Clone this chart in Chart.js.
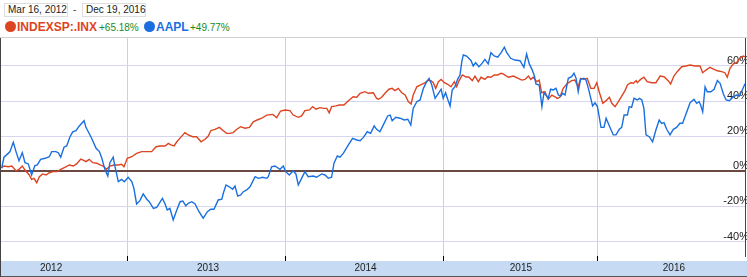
<!DOCTYPE html>
<html>
<head>
<meta charset="utf-8">
<script src="https://cdn.jsdelivr.net/npm/chart.js@4.4.0/dist/chart.umd.min.js"></script>
<style>
body { margin: 0; background: #fff; font-family: Arial, "Liberation Sans", sans-serif; }
#wrap { position: relative; width: 747px; height: 277px; overflow: hidden; }
.date { position: absolute; top: 3px; height: 12px; width: 59px; border: 1px solid #ddd; padding-left: 3px;
        font-size: 10px; line-height: 12px; color: #222; white-space: nowrap; }
.dash { position: absolute; top: 3px; left: 73px; font-size: 10px; line-height: 14px; color: #444; }
.dot { position: absolute; top: 21px; width: 11px; height: 11px; border-radius: 50%; }
.name { position: absolute; top: 21px; font-size: 12px; line-height: 12px; font-weight: bold; }
.chg { position: absolute; top: 23px; font-size: 10px; line-height: 10px; color: #1a8a1a; }
#rule { position: absolute; left: 0; top: 37px; width: 747px; height: 1px; background: #d0d0d0; }
#plot { position: absolute; left: 0; top: 38px; }
</style>
</head>
<body>
<div id="wrap">
  <div class="date" style="left:4px">Mar 16, 2012</div>
  <div class="dash">-</div>
  <div class="date" style="left:82px">Dec 19, 2016</div>
  <div class="dot" style="left:5px;background:#dd4422"></div>
  <div class="name" style="left:17px;color:#dd4422">INDEXSP:.INX</div>
  <div class="chg" style="left:99px">+65.18%</div>
  <div class="dot" style="left:144px;background:#1a6fe0"></div>
  <div class="name" style="left:156px;color:#1a6fe0">AAPL</div>
  <div class="chg" style="left:190px">+49.77%</div>
  <div id="rule"></div>
  <canvas id="plot" width="747" height="239"></canvas>
</div>
<script>
// x values are weeks since Mar 16, 2012; y values are % change
const yearStarts = [42.1, 94.8, 147.4, 198.7];
const yearMids = [16.7, 69, 121.5, 173.3, 224.3];
const yearNames = ['2012', '2013', '2014', '2015', '2016'];
const pctTicks = [-40, -20, 0, 20, 40, 60];

const inxWeeks = [0.2,1.0,2.4,3.6,5.0,6.0,7.1,8.0,9.4,10.2,11.0,11.9,12.8,13.9,15.0,16.1,17.4,18.8,19.9,21.3,
  22.8,24.1,25.2,26.6,27.4,28.3,29.4,30.6,31.9,33.0,34.1,35.2,36.3,37.7,39.1,40.2,41.0,42.1,43.6,45.2,
  46.9,48.6,50.2,51.7,53.0,54.7,55.8,56.6,57.7,58.6,59.9,61.3,62.4,63.9,65.2,66.7,68.0,69.1,69.9,71.3,
  72.8,74.1,75.2,76.3,77.4,78.6,79.9,81.3,82.8,
  84.1,85.4,86.9,88.6,90.6,91.9,93.2,94.7,96.3,97.4,99.1,100.2,101.3,102.8,103.9,105.0,106.3,107.7,108.6,109.4,
  110.2,111.7,112.8,114.3,115.8,117.4,118.6,119.7,121.3,122.4,124.1,125.2,
  125.8,126.9,128.0,129.3,130.4,131.3,132.4,133.6,134.7,135.8,136.7,137.4,138.6,139.7,141.1,142.2,143.3,144.1,144.9,145.8,
  146.7,147.8,148.9,150.0,151.1,151.9,152.7,153.8,154.9,156.0,157.1,158.0,159.1,160.0,161.3,162.2,163.3,164.4,165.6,166.7,
  167.4,169.1,170.8,172.4,173.6,174.7,175.8,176.6,177.4,178.6,179.4,180.2,181.3,182.4,183.6,184.7,185.4,186.3,187.4,188.6,
  190.2,191.3,192.4,193.2,194.3,195.4,196.6,197.7,198.6,199.4,200.6,201.7,202.8,203.6,204.7,205.8,206.9,208.0,208.8,209.9,
  210.8,211.7,212.1,213.2,214.3,215.4,216.9,218.3,219.7,221.0,222.4,223.2,224.3,225.4,226.9,228.3,229.7,231.3,233.0,233.9,
  235.0,236.3,237.7,238.8,240.2,241.3,242.1,243.0,244.1,245.2,246.3,247.4,248.0];
const inxPct = [2.0,3.0,2.6,3.0,0.3,1.1,3.0,0.7,-2.1,-4.6,-4.0,-6.5,-3.1,-1.5,-2.1,-0.8,-0.2,-0.2,1.1,2.3,
  3.6,3.0,4.2,7.0,6.4,5.5,6.8,4.9,4.6,3.6,3.0,1.1,3.0,3.6,3.6,4.0,2.6,7.4,8.3,10.2,
  11.2,11.2,11.2,14.0,14.4,14.4,15.9,15.0,14.4,16.8,19.3,22.0,20.7,19.7,19.7,16.8,18.2,20.1,23.1,23.9,
  25.0,23.1,21.6,21.6,22.0,23.9,25.4,24.5,25.0,
  28.2,29.2,30.2,32.0,32.4,30.5,34.3,34.9,34.5,32.0,30.7,31.5,34.5,34.9,36.8,35.3,36.2,35.8,35.8,33.3,
  36.8,37.2,37.7,37.7,40.2,42.4,42.1,44.4,45.3,44.4,44.7,41.5,
  41.0,42.1,44.4,46.7,47.2,45.9,47.2,44.7,43.4,39.6,38.3,43.4,48.1,49.1,50.1,51.6,51.6,50.4,47.2,51.0,
  52.3,50.4,49.5,48.1,51.0,48.1,51.6,54.8,53.8,53.5,51.6,54.2,51.0,53.5,52.3,53.8,53.5,54.8,54.8,55.8,
  55.4,53.5,54.2,52.9,51.9,52.3,54.2,52.3,53.5,51.0,51.9,44.7,45.3,41.0,43.4,42.4,41.5,42.1,47.2,49.7,
  51.6,51.9,48.1,52.9,52.3,52.9,47.2,47.2,50.4,45.3,38.7,40.2,42.1,38.7,36.8,39.6,42.8,45.9,49.1,50.4,
  50.1,51.6,50.4,52.3,53.5,51.0,50.4,50.4,54.2,53.8,51.6,49.7,54.2,56.7,59.5,59.9,60.5,59.9,59.9,56.1,
  57.6,59.2,58.0,57.2,56.7,56.1,53.5,58.6,61.1,61.8,64.3,65.6,65.18];

const aaplWeeks = [0.2,1.0,2.4,3.0,4.1,5.0,6.0,7.1,8.0,9.1,10.2,11.3,12.1,13.2,14.7,16.1,16.9,18.3,19.1,19.9,
  21.0,21.9,23.0,23.9,25.0,26.1,27.7,28.3,29.1,30.2,31.7,32.8,33.6,34.7,35.6,36.3,37.4,38.0,39.1,40.2,
  41.1,42.4,43.6,44.3,45.2,46.3,47.4,48.6,49.4,50.8,51.9,53.8,54.7,55.4,56.3,57.4,58.6,59.7,60.6,61.6,
  62.4,63.6,64.7,66.0,67.4,68.8,69.9,71.0,72.4,73.6,74.1,75.0,76.1,77.2,78.0,78.9,79.9,80.8,81.9,83.0,
  84.7,85.8,87.2,88.6,89.1,90.2,91.3,93.0,94.1,94.9,96.1,97.4,98.3,99.1,100.2,101.3,102.4,104.1,105.2,106.9,
  108.0,109.1,110.2,111.0,112.1,113.0,114.1,115.8,117.2,118.6,119.7,120.8,122.1,123.2,124.4,125.2,126.3,
  127.4,128.9,129.7,130.4,131.6,133.0,134.4,135.6,136.6,137.4,138.6,139.7,140.8,141.9,142.7,143.6,144.7,145.8,146.7,147.4,
  148.2,148.9,149.7,150.4,151.3,152.2,153.0,153.6,154.1,155.2,156.7,157.4,158.2,159.3,160.2,161.3,162.4,163.3,164.4,165.6,
  166.7,167.8,
  168.6,169.9,171.3,173.0,174.3,175.2,176.1,177.1,177.8,178.3,179.4,180.3,181.0,181.9,182.4,183.2,184.1,185.0,185.8,186.6,
  187.2,188.0,189.1,190.2,191.0,191.7,192.4,193.2,194.3,195.0,195.8,196.6,197.2,198.0,198.8,199.4,200.0,201.0,201.7,202.8,
  204.1,205.0,206.1,206.9,207.7,208.8,209.4,210.2,211.0,212.1,212.8,213.6,214.3,215.0,216.1,217.2,218.3,219.4,220.2,221.0,
  221.9,223.0,224.1,225.2,226.3,227.2,228.6,229.7,231.0,231.9,232.7,233.2,233.9,234.7,235.4,236.6,237.7,238.8,239.7,240.8,
  241.7,242.8,244.1,245.2,246.1,247.2,248.0];
const aaplPct = [1.7,8.0,10.2,11.2,16.5,11.2,6.0,10.6,4.9,4.2,-2.1,3.2,3.6,6.8,7.4,8.3,11.2,11.2,10.6,8.0,
  13.7,14.4,19.7,22.4,23.1,25.8,28.8,25.0,22.5,18.8,13.1,11.2,7.4,0.7,-2.7,4.9,8.0,2.6,-5.9,-4.6,
  -5.9,-3.4,-5.9,-9.7,-18.6,-16.7,-12.9,-15.9,-17.3,-21.1,-20.5,-15.4,-18.6,-22.0,-21.1,-27.7,-22.0,-17.3,-16.9,-19.7,
  -18.2,-17.3,-18.6,-23.0,-26.7,-23.0,-21.6,-21.6,-16.3,-15.9,-12.5,-7.8,-8.8,-10.2,-8.4,-14.1,-13.5,-11.6,-10.6,-8.8,
  -3.1,-4.0,-3.4,-4.0,-3.1,2.6,3.0,1.1,3.0,-0.2,-2.1,0.3,-1.5,-7.8,-4.0,-0.2,-3.1,-2.7,-3.4,-1.5,
  -2.1,-4.0,-3.4,4.6,8.7,8.0,10.2,15.0,18.8,17.8,17.4,19.3,22.5,21.6,25.8,23.9,22.5,
  26.3,31.5,32.0,28.8,30.7,30.2,29.2,29.6,26.3,35.8,39.6,40.6,47.2,51.0,52.9,49.1,41.5,44.4,46.7,41.5,
  44.7,41.0,37.2,46.3,48.1,52.3,54.8,62.4,66.2,65.6,62.9,59.9,61.8,59.5,61.1,63.7,61.1,67.5,65.6,64.9,
  67.5,70.6,
  67.5,64.3,63.3,62.9,59.2,66.7,61.1,57.6,54.2,49.7,49.1,36.8,44.7,42.8,41.5,46.7,46.3,47.2,43.4,42.8,
  44.4,43.4,52.9,53.8,55.8,52.9,45.3,52.3,52.9,51.9,47.2,41.5,37.2,39.0,36.8,31.1,25.0,25.0,30.2,25.8,
  20.7,20.7,23.9,25.0,32.0,32.0,36.8,36.4,41.5,40.6,41.5,40.6,35.8,20.7,19.7,16.8,23.5,29.2,27.3,27.7,
  23.9,20.7,23.9,25.0,27.3,27.3,33.9,39.0,41.0,38.7,39.6,37.7,33.9,48.1,45.3,45.3,46.7,51.6,50.1,44.0,
  40.6,40.2,42.4,43.4,42.8,46.7,49.77];

const RED = '#dd4422';
const BLUE = '#1a6fe0';

const toPoints = (xs, ys) => xs.map((x, i) => ({ x: x, y: ys[i] }));
const isYearStart = v => yearStarts.includes(v);

// bottom year band and left border
const frame = {
  id: 'frame',
  beforeDraw(chart) {
    const ctx = chart.ctx;
    const area = chart.chartArea;
    ctx.save();
    ctx.fillStyle = '#c6dbf3';
    ctx.fillRect(0, area.bottom + 5, chart.width, 15);
    ctx.fillStyle = '#555';
    ctx.fillRect(0, area.bottom + 20, chart.width, 1);
    ctx.fillStyle = '#444';
    ctx.fillRect(0, 0, 1, chart.height);
    ctx.restore();
  }
};

new Chart(document.getElementById('plot').getContext('2d'), {
  type: 'line',
  data: {
    datasets: [{
      label: 'AAPL',
      data: toPoints(aaplWeeks, aaplPct),
      borderColor: BLUE,
      borderWidth: 1.4,
      pointRadius: 0,
      order: 0
    }, {
      label: 'INDEXSP:.INX',
      data: toPoints(inxWeeks, inxPct),
      borderColor: RED,
      borderWidth: 1.4,
      pointRadius: 0,
      order: 1
    }]
  },
  options: {
    responsive: false,
    animation: false,
    devicePixelRatio: 1,
    layout: { padding: { left: 1, top: 0, right: 0, bottom: 0 } },
    plugins: { legend: { display: false }, tooltip: { enabled: false } },
    scales: {
      x: {
        type: 'linear',
        min: 0,
        max: 248,
        afterBuildTicks: s => { s.ticks = yearStarts.concat(yearMids).sort((a, b) => a - b).map(v => ({ value: v })); },
        afterFit: s => { s.height = 21; s.paddingLeft = 0; s.paddingRight = 0; },
        border: { display: false },
        grid: {
          color: c => (c.tick && isYearStart(c.tick.value)) ? '#cdd1d0' : 'rgba(0,0,0,0)',
          tickColor: c => (c.tick && isYearStart(c.tick.value)) ? '#000' : 'rgba(0,0,0,0)',
          tickLength: 5,
          lineWidth: 1
        },
        ticks: {
          autoSkip: false,
          maxRotation: 0,
          padding: 1,
          color: '#222',
          font: { size: 10, family: 'Arial, "Liberation Sans", sans-serif' },
          callback: v => {
            const i = yearMids.indexOf(v);
            return i >= 0 ? yearNames[i] : '';
          }
        }
      },
      y: {
        position: 'right',
        min: -48.2,
        max: 75.85,
        afterBuildTicks: s => { s.ticks = pctTicks.map(v => ({ value: v })); },
        afterFit: s => { s.width = 2; s.paddingTop = 0; s.paddingBottom = 0; },
        border: { display: true, color: '#444', width: 1 },
        grid: {
          drawTicks: false,
          color: c => (c.tick && c.tick.value === 0) ? '#6b4842' : '#d6d6ee',
          lineWidth: c => (c.tick && c.tick.value === 0) ? 2 : 1
        },
        ticks: {
          mirror: true,
          padding: 4,
          labelOffset: -5,
          color: '#222',
          font: { size: 11, family: 'Arial, "Liberation Sans", sans-serif' },
          callback: v => v + '%'
        }
      }
    }
  },
  plugins: [frame]
});
</script>
</body>
</html>
